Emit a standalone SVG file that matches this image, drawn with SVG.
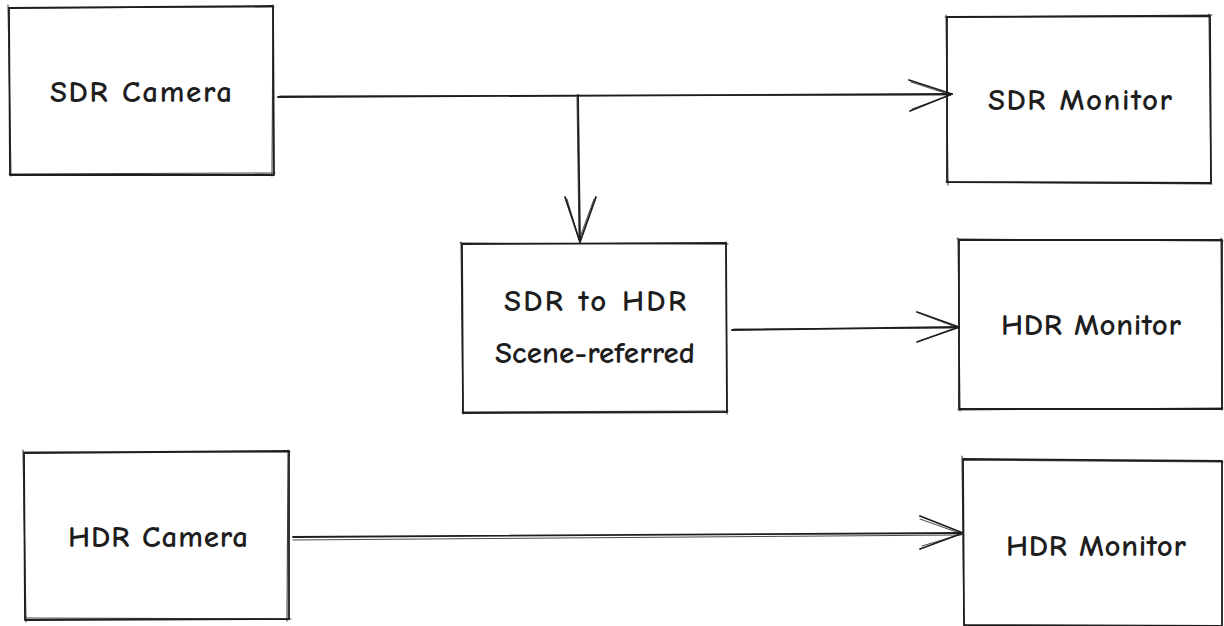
<svg xmlns="http://www.w3.org/2000/svg" width="1224" height="626" viewBox="0 0 1224 626">
<style>
  .bg { fill: #ffffff; }
  .box { fill: none; stroke: #1e1e1e; stroke-width: 1.8; stroke-linecap: round; stroke-linejoin: round; }
  .box2 { fill: none; stroke: #1e1e1e; stroke-width: 1.1; stroke-linecap: round; opacity: 0.85; }
  .conn { fill: none; stroke: #1e1e1e; stroke-width: 1.8; stroke-linecap: round; stroke-linejoin: round; }
  .conn2 { fill: none; stroke: #1e1e1e; stroke-width: 1.0; stroke-linecap: round; opacity: 0.8; }
  .label { font-family: "Comic Neue", "Liberation Sans", "DejaVu Sans", sans-serif; font-size: 31px; font-weight: 700; fill: #1e1e1e; text-anchor: middle; }
</style>
<rect class="bg" x="0" y="0" width="1224" height="626"/>

<g id="sdr-camera">
  <path class="box" d="M9 8 L273 6 L274 175 L10 175 Z"/>
  <path class="box2" d="M8 5 L11 176 M8 8 L274 7 M273 5 L272 176 M9 174 L275 173"/>
  <text class="label" x="141" y="102" textLength="182" lengthAdjust="spacing">SDR Camera</text>
</g>

<g id="sdr-monitor">
  <path class="box" d="M947 17 L1210 16 L1211 183 L947 182 Z"/>
  <path class="box2" d="M946 15 L948 185 M945 17 L1212 15 M1209 14 L1211 184 M946 182 L1212 184"/>
  <text class="label" x="1080" y="110" textLength="184" lengthAdjust="spacing">SDR Monitor</text>
</g>

<g id="sdr-to-hdr">
  <path class="box" d="M462 244 L726 243 L727 412 L463 413 Z"/>
  <path class="box2" d="M461 242 L463 414 M460 243 L728 244 M726 242 L727 414 M462 412 L728 411"/>
  <text class="label" x="595" y="311" textLength="182" lengthAdjust="spacing">SDR to HDR</text>
  <text class="label" x="595" y="363" textLength="200" lengthAdjust="spacing">Scene-referred</text>
</g>

<g id="hdr-monitor-1">
  <path class="box" d="M959 240 L1222 240 L1222 409 L959 409 Z"/>
  <path class="box2" d="M958 238 L960 411 M957 239 L1223 241 M1221 238 L1222 410 M958 410 L1223 408"/>
  <text class="label" x="1091" y="335" textLength="180" lengthAdjust="spacing">HDR Monitor</text>
</g>

<g id="hdr-camera">
  <path class="box" d="M24 453 L289 451 L289 619 L25 620 Z"/>
  <path class="box2" d="M23 450 L26 622 M23 452 L290 452 M288 450 L287 621 M25 618 L291 619"/>
  <text class="label" x="158" y="547" textLength="180" lengthAdjust="spacing">HDR Camera</text>
</g>

<g id="hdr-monitor-2">
  <path class="box" d="M963 459 L1222 461 L1222 626 L964 625 Z"/>
  <path class="box2" d="M962 456 L964 626 M962 460 L1223 462"/>
  <text class="label" x="1096" y="556" textLength="180" lengthAdjust="spacing">HDR Monitor</text>
</g>

<g id="connectors">
  <path class="conn" d="M278 97 L952 94"/>
  <path class="conn2" d="M280 96 L950 95"/>
  <path class="conn" d="M909 80 L952 94 L910 111"/>
  <path class="conn2" d="M911 82 L951 95 L912 109"/>
  <path class="conn" d="M578 95 L580 242"/>
  <path class="conn2" d="M577 97 L579 240"/>
  <path class="conn" d="M565 197 L580 242 L596 197"/>
  <path class="conn2" d="M567 199 L579 240 L594 199"/>
  <path class="conn" d="M732 330 L959 327"/>
  <path class="conn2" d="M734 329 L957 328"/>
  <path class="conn" d="M917 312 L959 327 L917 342"/>
  <path class="conn2" d="M919 313 L958 328 L919 341"/>
  <path class="conn" d="M293 537 L963 533"/>
  <path class="conn2" d="M293 540 L961 535"/>
  <path class="conn" d="M920 516 L963 533 L920 549"/>
  <path class="conn2" d="M920 519 L962 534 L922 546"/>
</g>
</svg>
